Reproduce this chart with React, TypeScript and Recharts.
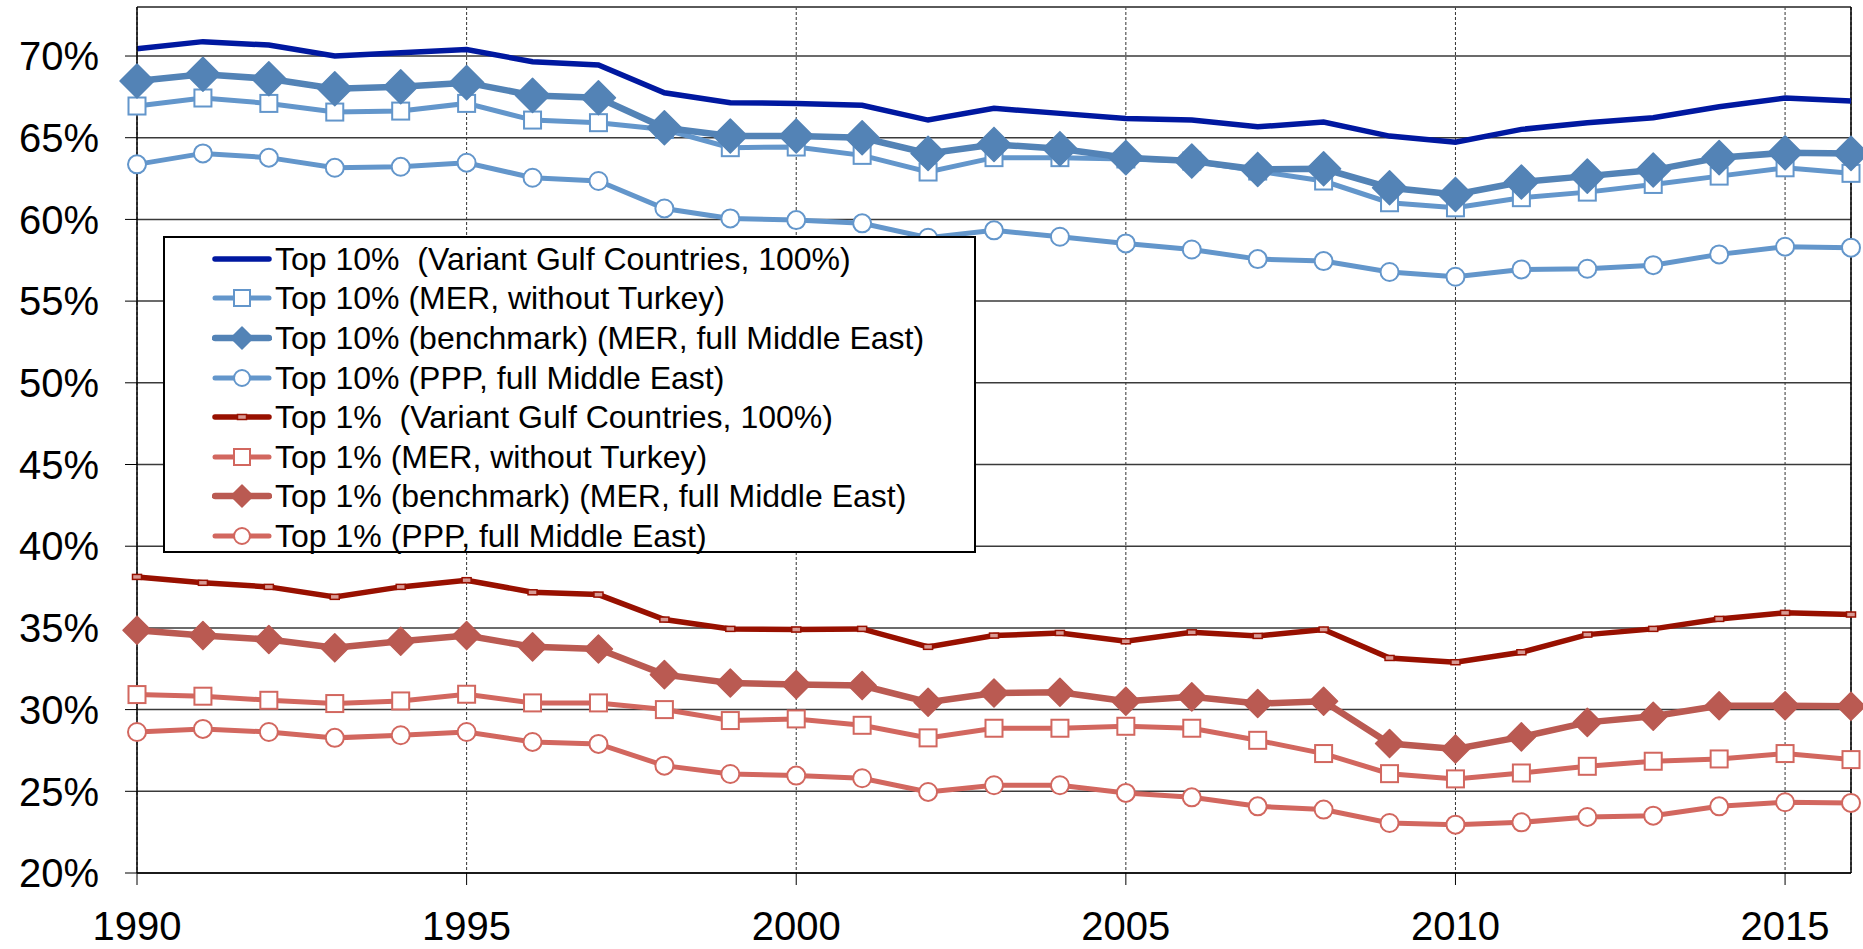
import { LineChart, Line, XAxis, YAxis, CartesianGrid, Legend, ReferenceLine } from 'recharts';

const years = [
  1990, 1991, 1992, 1993, 1994, 1995, 1996, 1997, 1998, 1999, 2000, 2001, 2002,
  2003, 2004, 2005, 2006, 2007, 2008, 2009, 2010, 2011, 2012, 2013, 2014, 2015, 2016,
];

const top10Gulf = [
  70.45, 70.88, 70.67, 70.0, 70.2, 70.4, 69.65, 69.45, 67.75, 67.14, 67.1, 66.98, 66.08,
  66.8, 66.49, 66.18, 66.08, 65.67, 65.96, 65.1, 64.73, 65.51, 65.92, 66.22, 66.9, 67.43, 67.24,
];
const top10NoTurkey = [
  66.94, 67.43, 67.1, 66.57, 66.63, 67.1, 66.08, 65.92, 65.5, 64.39, 64.43, 63.92, 62.9,
  63.78, 63.78, 63.7, 63.57, 62.96, 62.35, 61.02, 60.71, 61.33, 61.67, 62.14, 62.65, 63.16, 62.82,
];
const top10Bench = [
  68.47, 68.88, 68.61, 68.0, 68.12, 68.37, 67.59, 67.45, 65.61, 65.1, 65.1, 65.0, 64.04,
  64.59, 64.33, 63.78, 63.57, 63.06, 63.1, 61.94, 61.53, 62.29, 62.65, 63.02, 63.78, 64.08, 64.04,
];
const top10Ppp = [
  63.37, 64.04, 63.78, 63.16, 63.22, 63.47, 62.55, 62.35, 60.67, 60.06, 59.96, 59.76, 58.88,
  59.33, 58.94, 58.53, 58.16, 57.57, 57.45, 56.78, 56.49, 56.94, 56.98, 57.2, 57.86, 58.33, 58.27,
];
const top1Gulf = [
  38.12, 37.76, 37.51, 36.9, 37.51, 37.92, 37.18, 37.04, 35.51, 34.94, 34.9, 34.94, 33.84,
  34.53, 34.69, 34.18, 34.73, 34.51, 34.9, 33.16, 32.9, 33.51, 34.59, 34.94, 35.55, 35.92, 35.82,
];
const top1NoTurkey = [
  30.92, 30.82, 30.57, 30.37, 30.53, 30.94, 30.41, 30.41, 30.0, 29.33, 29.43, 29.04, 28.27,
  28.86, 28.86, 28.98, 28.86, 28.12, 27.31, 26.08, 25.76, 26.12, 26.53, 26.84, 26.98, 27.31, 26.94,
];
const top1Bench = [
  34.86, 34.53, 34.29, 33.78, 34.18, 34.53, 33.84, 33.71, 32.14, 31.63, 31.53, 31.47, 30.45,
  31.02, 31.06, 30.51, 30.78, 30.37, 30.51, 27.92, 27.59, 28.33, 29.22, 29.59, 30.24, 30.24, 30.2,
];
const top1Ppp = [
  28.63, 28.82, 28.63, 28.27, 28.43, 28.63, 28.02, 27.9, 26.57, 26.06, 25.96, 25.8, 24.96,
  25.37, 25.37, 24.9, 24.63, 24.08, 23.88, 23.06, 22.96, 23.1, 23.43, 23.51, 24.08, 24.33, 24.29,
];

const yTicks = [20, 25, 30, 35, 40, 45, 50, 55, 60, 65, 70];
const xTicks = [1990, 1995, 2000, 2005, 2010, 2015];

type Marker = 'none' | 'square' | 'diamond' | 'circle' | 'dash';

type SeriesDef = {
  key: string;
  name: string;
  values: number[];
  color: string;
  width: number;
  marker: Marker;
  size: number;
};

const series: SeriesDef[] = [
  { key: 't10g', name: 'Top 10%  (Variant Gulf Countries, 100%)', values: top10Gulf, color: '#0018A0', width: 5.5, marker: 'none', size: 0 },
  { key: 't10t', name: 'Top 10% (MER, without Turkey)', values: top10NoTurkey, color: '#6396CB', width: 5, marker: 'square', size: 17 },
  { key: 't10b', name: 'Top 10% (benchmark) (MER, full Middle East)', values: top10Bench, color: '#5383B6', width: 6.5, marker: 'diamond', size: 17 },
  { key: 't10p', name: 'Top 10% (PPP, full Middle East)', values: top10Ppp, color: '#6396CB', width: 5, marker: 'circle', size: 9 },
  { key: 't1g', name: 'Top 1%  (Variant Gulf Countries, 100%)', values: top1Gulf, color: '#981000', width: 5.5, marker: 'dash', size: 9 },
  { key: 't1t', name: 'Top 1% (MER, without Turkey)', values: top1NoTurkey, color: '#D2675F', width: 5, marker: 'square', size: 17 },
  { key: 't1b', name: 'Top 1% (benchmark) (MER, full Middle East)', values: top1Bench, color: '#BA5A52', width: 6.5, marker: 'diamond', size: 14 },
  { key: 't1p', name: 'Top 1% (PPP, full Middle East)', values: top1Ppp, color: '#D2675F', width: 5, marker: 'circle', size: 9 },
];

const data = years.map((year, i) => {
  const row: Record<string, number> = { year };
  series.forEach((s) => {
    row[s.key] = s.values[i];
  });
  return row;
});

const FONT = '"Liberation Sans", Arial, sans-serif';

function drawMarker(marker: Marker, cx: number, cy: number, color: string, size: number, key?: string | number) {
  if (marker === 'square') {
    return (
      <rect key={key} x={cx - size / 2} y={cy - size / 2} width={size} height={size}
        fill="#fff" stroke={color} strokeWidth={2} />
    );
  }
  if (marker === 'circle') {
    return <circle key={key} cx={cx} cy={cy} r={size} fill="#fff" stroke={color} strokeWidth={2} />;
  }
  if (marker === 'diamond') {
    const d = size;
    return (
      <polygon key={key} points={`${cx},${cy - d} ${cx + d},${cy} ${cx},${cy + d} ${cx - d},${cy}`}
        fill={color} stroke={color} strokeWidth={1.5} strokeLinejoin="round" />
    );
  }
  if (marker === 'dash') {
    return (
      <rect key={key} x={cx - size / 2} y={cy - 2.5} width={size} height={5}
        fill="#D89A94" stroke={color} strokeWidth={1.5} />
    );
  }
  return <g key={key} />;
}

function LegendBox() {
  return (
    <div
      style={{
        width: 813,
        height: 317,
        boxSizing: 'border-box',
        border: '2px solid #000',
        background: '#fff',
        paddingTop: 1,
        fontFamily: FONT,
      }}
    >
      {series.map((s) => (
        <div key={s.key} style={{ display: 'flex', alignItems: 'center', height: 39.6 }}>
          <svg width={60} height={40} style={{ marginLeft: 47, flex: 'none' }}>
            <line x1={3} y1={20} x2={57} y2={20} stroke={s.color} strokeWidth={s.width}
              strokeLinecap="round" />
            {s.marker !== 'none' &&
              drawMarker(s.marker, 30, 20, s.color, s.marker === 'diamond' ? 11 : s.marker === 'circle' ? 8 : s.marker === 'dash' ? 9 : 16)}
          </svg>
          <span style={{ fontSize: 32, color: '#000', marginLeft: 3, whiteSpace: 'pre', lineHeight: '40px' }}>
            {s.name}
          </span>
        </div>
      ))}
    </div>
  );
}

export default function App() {
  return (
    <div style={{ position: 'absolute', left: 0, top: 0, background: '#fff' }}>
      <LineChart width={1863} height={949} data={data}
        margin={{ top: 7, right: 12, bottom: 0, left: 0 }}
        style={{ fontFamily: FONT }}>
        <CartesianGrid vertical={false} stroke="#3a3a3a" strokeWidth={1.5} />
        <CartesianGrid horizontal={false} stroke="#333" strokeWidth={1} strokeDasharray="3 2" />
        <XAxis
          dataKey="year"
          type="number"
          domain={[1990, 2016]}
          ticks={xTicks}
          height={76}
          tickSize={12}
          tickMargin={27}
          axisLine={{ stroke: '#000', strokeWidth: 1.5 }}
          tickLine={{ stroke: '#000', strokeWidth: 1 }}
          tick={{ fill: '#000', fontSize: 40, fontFamily: FONT }}
        />
        <YAxis
          domain={[20, 73]}
          ticks={yTicks}
          width={137}
          tickSize={12}
          tickMargin={26}
          tickFormatter={(v: number) => `${v}%`}
          axisLine={{ stroke: '#000', strokeWidth: 1.5 }}
          tickLine={{ stroke: '#000', strokeWidth: 1 }}
          tick={{ fill: '#000', fontSize: 40, fontFamily: FONT }}
        />
        <ReferenceLine y={73} stroke="#555" strokeWidth={1.5} />
        <ReferenceLine x={2016} stroke="#000" strokeWidth={1.5} />
        {series.map((s) => (
          <Line
            key={s.key}
            type="linear"
            dataKey={s.key}
            name={s.name}
            stroke={s.color}
            strokeWidth={s.width}
            isAnimationActive={false}
            dot={
              s.marker === 'none'
                ? false
                : (p: { cx?: number; cy?: number; index?: number }) =>
                    drawMarker(s.marker, p.cx ?? 0, p.cy ?? 0, s.color, s.size, `${s.key}-${p.index}`)
            }
            activeDot={false}
          />
        ))}
        <Legend
          layout="vertical"
          align="center"
          verticalAlign="middle"
          content={() => <LegendBox />}
          wrapperStyle={{ left: 163, top: 236, width: 813, height: 317 }}
        />
      </LineChart>
    </div>
  );
}
